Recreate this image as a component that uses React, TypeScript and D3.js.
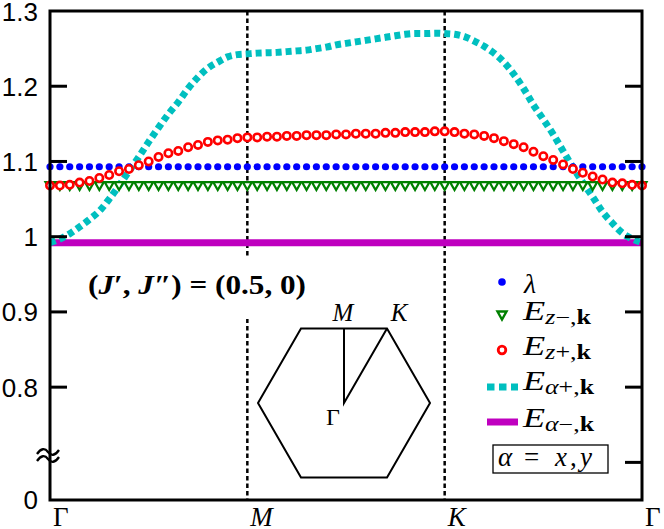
import React from 'react';
import * as d3 from 'd3';

// k-path: 61 samples, Γ -> M -> K -> Γ (20 steps per leg)
const kTickIndex = [0, 20, 40, 60];
const kTickLabels = ['Γ', 'M', 'K', 'Γ'];
const kTickItalic = [false, true, true, false];

const yTickValues = [1.3, 1.2, 1.1, 1.0, 0.9, 0.8];
const yTickLabels = ['1.3', '1.2', '1.1', '1', '0.9', '0.8'];
const yTicksLeft = [1.2, 1.1, 1.0, 0.9, 0.8];
const yTicksRight = [1.2, 1.1, 1.0, 0.9, 0.8, 0.7];
const yBottom = 0.65; // axis is broken, bottom labelled "0"
const yBottomLabel = '0';

const lambdaVals = [
  1.093, 1.093, 1.093, 1.093, 1.093, 1.093, 1.093, 1.093, 1.093, 1.093, 1.093,
  1.093, 1.093, 1.093, 1.093, 1.093, 1.093, 1.093, 1.093, 1.093, 1.093,
  1.093, 1.093, 1.093, 1.093, 1.093, 1.093, 1.093, 1.093, 1.093, 1.093,
  1.093, 1.093, 1.093, 1.093, 1.093, 1.093, 1.093, 1.093, 1.093, 1.093,
  1.093, 1.093, 1.093, 1.093, 1.093, 1.093, 1.093, 1.093, 1.093, 1.093,
  1.093, 1.093, 1.093, 1.093, 1.093, 1.093, 1.093, 1.093, 1.093, 1.093,
];

const ezMinusVals = [
  1.068, 1.068, 1.068, 1.068, 1.068, 1.068, 1.068, 1.068, 1.068, 1.068, 1.068,
  1.068, 1.068, 1.068, 1.068, 1.068, 1.068, 1.068, 1.068, 1.068, 1.068,
  1.068, 1.068, 1.068, 1.068, 1.068, 1.068, 1.068, 1.068, 1.068, 1.068,
  1.068, 1.068, 1.068, 1.068, 1.068, 1.068, 1.068, 1.068, 1.068, 1.068,
  1.068, 1.068, 1.068, 1.068, 1.068, 1.068, 1.068, 1.068, 1.068, 1.068,
  1.068, 1.068, 1.068, 1.068, 1.068, 1.068, 1.068, 1.068, 1.068, 1.068,
];

const ezPlusVals = [
  1.068, 1.068, 1.069, 1.072, 1.074, 1.078, 1.082, 1.087, 1.090, 1.095, 1.100,
  1.106, 1.111, 1.114, 1.119, 1.122, 1.126, 1.128, 1.129, 1.131, 1.132,
  1.132, 1.133, 1.133, 1.134, 1.134, 1.135, 1.135, 1.135, 1.136, 1.136,
  1.137, 1.137, 1.137, 1.138, 1.138, 1.139, 1.139, 1.139, 1.140, 1.140,
  1.139, 1.137, 1.136, 1.134, 1.131, 1.127, 1.123, 1.119, 1.113, 1.107,
  1.102, 1.096, 1.090, 1.085, 1.080, 1.076, 1.072, 1.071, 1.069, 1.068,
];

const eaPlusVals = [
  0.992, 0.997, 1.004, 1.013, 1.023, 1.034, 1.050, 1.068, 1.087, 1.106, 1.126,
  1.145, 1.163, 1.179, 1.197, 1.212, 1.224, 1.232, 1.239, 1.242, 1.243,
  1.244, 1.2445, 1.245, 1.246, 1.247, 1.248, 1.250, 1.252, 1.255, 1.257,
  1.259, 1.261, 1.263, 1.265, 1.267, 1.269, 1.270, 1.270, 1.2705, 1.270,
  1.269, 1.266, 1.260, 1.253, 1.244, 1.232, 1.216, 1.197, 1.175, 1.156,
  1.136, 1.114, 1.092, 1.072, 1.053, 1.033, 1.018, 1.005, 0.997, 0.992,
];

const eaMinusVals = [
  0.992, 0.992, 0.992, 0.992, 0.992, 0.992, 0.992, 0.992, 0.992, 0.992, 0.992,
  0.992, 0.992, 0.992, 0.992, 0.992, 0.992, 0.992, 0.992, 0.992, 0.992,
  0.992, 0.992, 0.992, 0.992, 0.992, 0.992, 0.992, 0.992, 0.992, 0.992,
  0.992, 0.992, 0.992, 0.992, 0.992, 0.992, 0.992, 0.992, 0.992, 0.992,
  0.992, 0.992, 0.992, 0.992, 0.992, 0.992, 0.992, 0.992, 0.992, 0.992,
  0.992, 0.992, 0.992, 0.992, 0.992, 0.992, 0.992, 0.992, 0.992, 0.992,
];

const BLUE = '#0000ff';
const GREEN = '#008000';
const RED = '#ff0000';
const CYAN = '#00bfbf';
const MAGENTA = '#bf00bf';

const W = 664;
const H = 529;
const left = 50, right = 642, top = 11, bottom = 500;

const serif = '"Liberation Serif", "DejaVu Serif", serif';
const sans = '"Liberation Sans", Arial, sans-serif';

const triPath = (x: number, y: number) =>
  `M${x - 4.5},${y - 3.5}L${x + 4.5},${y - 3.5}L${x},${y + 4.5}Z`;

// one "~" stroke of the axis-break sign
const tilde = (x0: number, yc: number) =>
  `M${x0},${yc + 2}C${x0 + 4},${yc - 4} ${x0 + 8},${yc - 4} ${x0 + 11},${yc}` +
  `S${x0 + 18},${yc + 4} ${x0 + 22},${yc - 2}`;

const App: React.FC = () => {
  const x = d3.scaleLinear().domain([0, 60]).range([left, right]);
  const y = d3.scaleLinear().domain([yBottom, 1.3]).range([bottom, top]);

  const line = d3.line<number>()
    .x((_, i) => x(i))
    .y(d => y(d))
    .curve(d3.curveMonotoneX);

  // Brillouin-zone inset
  const cx = 344, cy = 403, R = 86;
  const hex = d3.range(6).map(k => {
    const a = (Math.PI / 3) * k;
    return [cx + R * Math.cos(a), cy - R * Math.sin(a)];
  });
  const hexPath = 'M' + hex.map(p => p.join(',')).join('L') + 'Z';
  const mPt = [cx, cy - R * Math.sin(Math.PI / 3)];
  const kPt = hex[1];

  const legendRows = [282, 315, 350, 387, 422];
  const legendBase = [293, 320, 355, 390, 427];
  const lx = 502;

  const subE = (sub: string, sign: string, row: number, len: number) => (
    <text x={523} y={legendBase[row]} fontFamily={serif} fontSize={28}
      textLength={len} lengthAdjust="spacingAndGlyphs">
      <tspan fontStyle="italic">E</tspan>
      <tspan fontSize={20} dy={4} fontStyle="italic">{sub}</tspan>
      <tspan fontSize={20}>{sign},</tspan>
      <tspan fontSize={20} fontWeight="bold">k</tspan>
    </text>
  );

  return (
    <svg width={W} height={H} style={{ position: 'absolute', left: 0, top: 0, background: '#fff' }}>
      <rect x={0} y={0} width={W} height={H} fill="#fff" />

      {/* vertical dashed lines at M and K */}
      {kTickIndex.slice(1, 3).map(i => (
        <line key={i} x1={x(i)} x2={x(i)} y1={top} y2={bottom}
          stroke="#000" strokeWidth={2.5} strokeDasharray="4.5 3" />
      ))}

      {/* white box behind the parameter label */}
      <rect x={82} y={257} width={230} height={62} fill="#fff" />
      <text x={88} y={294} fontFamily={serif} fontSize={27} fontWeight="bold"
        textLength={218} lengthAdjust="spacingAndGlyphs">
        (<tspan fontStyle="italic">J</tspan>′, <tspan fontStyle="italic">J</tspan>″) = (0.5, 0)
      </text>

      {/* inset */}
      <path d={hexPath} fill="none" stroke="#000" strokeWidth={2} />
      <path d={`M${mPt[0]},${mPt[1]}L${cx},${cy}L${kPt[0]},${kPt[1]}`} fill="none" stroke="#000" strokeWidth={2} />
      <text x={mPt[0] - 1} y={321} textAnchor="middle" fontFamily={serif} fontStyle="italic" fontSize={25}>M</text>
      <text x={kPt[0] + 12} y={321} textAnchor="middle" fontFamily={serif} fontStyle="italic" fontSize={25}>K</text>
      <text x={cx - 11} y={425} textAnchor="middle" fontFamily={serif} fontSize={24}>Γ</text>

      {/* series */}
      <path d={line(eaMinusVals) || undefined} fill="none" stroke={MAGENTA} strokeWidth={7} />
      <path d={line(eaPlusVals) || undefined} fill="none" stroke={CYAN} strokeWidth={7} strokeDasharray="6 4" />
      {ezMinusVals.map((d, i) => (
        <path key={'g' + i} d={triPath(x(i), y(d))} fill="#fff" stroke={GREEN} strokeWidth={2.2} />
      ))}
      {lambdaVals.map((d, i) => (
        <circle key={'b' + i} cx={x(i)} cy={y(d)} r={3.6} fill={BLUE} />
      ))}
      {ezPlusVals.map((d, i) => (
        <circle key={'r' + i} cx={x(i)} cy={y(d)} r={3.7} fill="#fff" stroke={RED} strokeWidth={2.6} />
      ))}

      {/* frame */}
      <rect x={left} y={top} width={right - left} height={bottom - top} fill="none" stroke="#000" strokeWidth={3} />
      {yTicksLeft.map(v => (
        <line key={'tl' + v} x1={left} x2={left + 17} y1={y(v)} y2={y(v)} stroke="#000" strokeWidth={3} />
      ))}
      {yTicksRight.map(v => (
        <line key={'tr' + v} x1={right - 17} x2={right} y1={y(v)} y2={y(v)} stroke="#000" strokeWidth={3} />
      ))}

      {/* y labels */}
      {yTickValues.map((v, i) => (
        <text key={'yl' + v} x={38} y={y(v) + (i === 0 ? 1 : 0)} dy="0.36em" textAnchor="end" fontFamily={sans} fontSize={26}>
          {yTickLabels[i]}
        </text>
      ))}
      <text x={38} y={y(yBottom)} dy="0.36em" textAnchor="end" fontFamily={sans} fontSize={26}>{yBottomLabel}</text>
      <path d={tilde(37, 452)} fill="none" stroke="#000" strokeWidth={2.3} />
      <path d={tilde(37, 459)} fill="none" stroke="#000" strokeWidth={2.3} />

      {/* x labels */}
      {kTickIndex.map((k, i) => (
        <text key={'xl' + i} x={x(k) + 3} y={526} fontFamily={serif} fontSize={27}
          fontStyle={kTickItalic[i] ? 'italic' : 'normal'}>
          {kTickLabels[i]}
        </text>
      ))}

      {/* legend */}
      <circle cx={lx} cy={legendRows[0]} r={3.8} fill={BLUE} />
      <text x={524} y={legendBase[0]} fontFamily={serif} fontStyle="italic" fontSize={28}>λ</text>
      <path d={triPath(lx, legendRows[1])} fill="#fff" stroke={GREEN} strokeWidth={2.4} />
      {subE('z', '−', 1, 68)}
      <circle cx={lx} cy={legendRows[2]} r={3.8} fill="#fff" stroke={RED} strokeWidth={2.8} />
      {subE('z', '+', 2, 68)}
      <line x1={487} x2={518} y1={legendRows[3]} y2={legendRows[3]} stroke={CYAN} strokeWidth={7} strokeDasharray="7.5 4.5" />
      {subE('α', '+', 3, 71)}
      <line x1={487} x2={518} y1={legendRows[4]} y2={legendRows[4]} stroke={MAGENTA} strokeWidth={7} />
      {subE('α', '−', 4, 71)}
      <rect x={493} y={445} width={115} height={28} fill="#fff" stroke="#000" strokeWidth={1.3} />
      <text y={466} fontFamily={serif} fontSize={27}>
        <tspan x={498} fontStyle="italic">α</tspan>
        <tspan x={524}>=</tspan>
        <tspan x={555} fontStyle="italic">x</tspan>
        <tspan x={570}>,</tspan>
        <tspan x={580} fontStyle="italic">y</tspan>
      </text>
    </svg>
  );
};

export default App;
